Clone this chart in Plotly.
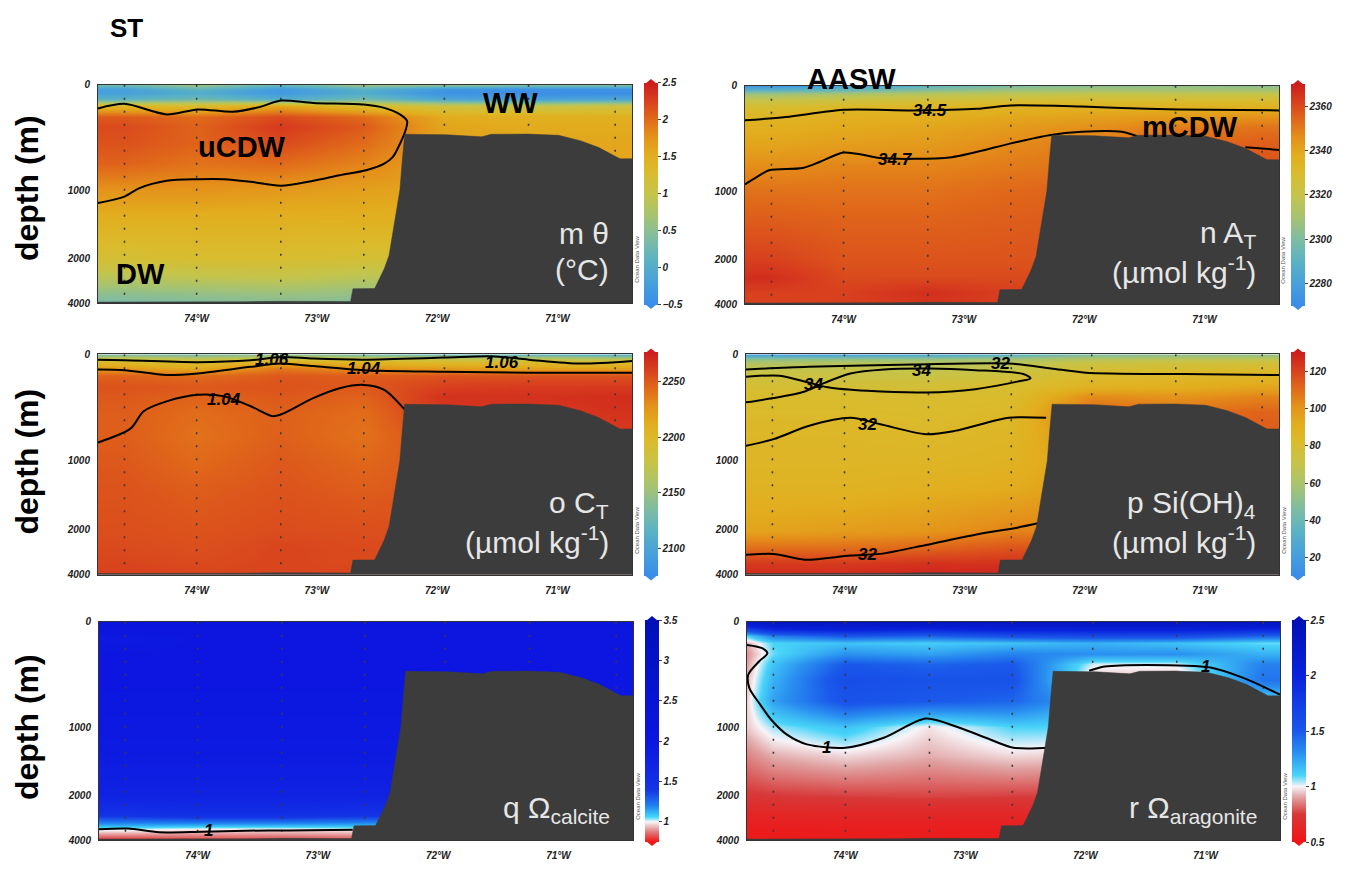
import numpy as np
import plotly.graph_objects as go

W, H = 1345, 869          # reference picture size
OFF = 8                    # default page margin around the figure
FW, FH = W - 2 * OFF, H - 2 * OFF
FONT = "Liberation Sans, Arial, sans-serif"

# ---------------- data ----------------
stations = [-74.60, -74.00, -73.30, -72.61, -71.94, -71.24, -70.52]
arag_lons = [-74.82, -74.60, -74.00, -73.30, -72.61, -71.94, -71.24, -70.52]
depths = [0, 40, 80, 130, 200, 300, 400, 550, 750, 1000, 1400, 2000, 2800, 3500, 4000]

lon_range = [-74.82, -70.38]
lon_ticks = [-74, -73, -72, -71]
lon_ticktext = ["74°W", "73°W", "72°W", "71°W"]
depth_ticks = [0, 1000, 2000, 4000]

# stretched depth axis of the section plots
depth_knots = [0, 1000, 2000, 4000]
axis_knots = [0, 1000, 1654, 2075]

theta = [
    [0.3, 0.6, 0.2, 0.6, 0.5, 0.4, 0.4],
    [-0.2, 0.2, -0.3, 0.1, -0.3, -0.4, -0.4],
    [-0.2, 0.0, -0.3, 0.0, -0.4, -0.45, -0.45],
    [0.1, 0.3, 0.0, 0.3, -0.1, -0.2, -0.1],
    [1.4, 1.3, 1.6, 1.3, 1.1, 1.0, 1.1],
    [2.1, 2.0, 2.2, 2.0, 1.55, 1.5, 1.5],
    [2.2, 2.05, 2.3, 2.1, 1.6, 1.55, 1.55],
    [2.15, 2.05, 2.2, 2.0, 1.65, 1.6, 1.6],
    [2.05, 1.95, 2.0, 1.85, 1.65, 1.6, 1.6],
    [1.75, 1.75, 1.7, 1.65, 1.6, 1.6, 1.6],
    [1.5, 1.5, 1.5, 1.5, 1.5, 1.5, 1.5],
    [1.2, 1.25, 1.25, 1.2, 1.2, 1.2, 1.2],
    [0.9, 0.95, 1.0, 0.9, 0.9, 0.9, 0.9],
    [0.55, 0.6, 0.65, 0.6, 0.6, 0.6, 0.6],
    [0.35, 0.4, 0.45, 0.45, 0.45, 0.45, 0.45],
]

alkalinity = [
    [2276, 2282, 2292, 2300, 2304, 2306, 2304],
    [2290, 2294, 2302, 2308, 2310, 2310, 2310],
    [2308, 2312, 2316, 2318, 2320, 2320, 2320],
    [2320, 2323, 2325, 2327, 2328, 2328, 2328],
    [2328, 2332, 2333, 2335, 2336, 2336, 2336],
    [2334, 2337, 2337, 2340, 2342, 2344, 2346],
    [2337, 2339, 2340, 2343, 2346, 2350, 2352],
    [2340, 2342, 2343, 2347, 2350, 2354, 2356],
    [2346, 2348, 2348, 2350, 2352, 2356, 2358],
    [2352, 2352, 2352, 2354, 2355, 2357, 2358],
    [2356, 2355, 2355, 2356, 2357, 2358, 2358],
    [2362, 2358, 2358, 2358, 2358, 2358, 2358],
    [2366, 2360, 2360, 2360, 2360, 2360, 2360],
    [2362, 2362, 2366, 2362, 2362, 2362, 2362],
    [2362, 2362, 2364, 2362, 2362, 2362, 2362],
]

dic = [
    [2135, 2130, 2145, 2130, 2125, 2120, 2110],
    [2175, 2170, 2180, 2178, 2172, 2168, 2165],
    [2200, 2195, 2212, 2205, 2200, 2196, 2196],
    [2222, 2212, 2238, 2226, 2222, 2218, 2218],
    [2246, 2242, 2250, 2248, 2252, 2252, 2252],
    [2252, 2250, 2252, 2250, 2260, 2262, 2262],
    [2250, 2246, 2250, 2246, 2266, 2266, 2268],
    [2248, 2242, 2247, 2242, 2264, 2264, 2266],
    [2248, 2240, 2247, 2240, 2256, 2258, 2262],
    [2250, 2243, 2250, 2244, 2252, 2252, 2256],
    [2252, 2248, 2252, 2248, 2252, 2252, 2252],
    [2254, 2252, 2255, 2254, 2254, 2254, 2254],
    [2256, 2254, 2258, 2256, 2256, 2256, 2256],
    [2258, 2256, 2258, 2256, 2256, 2256, 2256],
    [2260, 2258, 2258, 2258, 2258, 2258, 2258],
]

silicate = [
    [20, 22, 26, 32, 45, 50, 52],
    [48, 50, 52, 56, 62, 64, 66],
    [62, 64, 64, 66, 72, 74, 76],
    [68, 70, 68, 70, 78, 80, 82],
    [74, 72, 72, 76, 82, 84, 86],
    [79, 78, 78, 80, 88, 90, 94],
    [81, 81, 81, 82, 102, 100, 104],
    [83, 83, 82, 84, 112, 108, 112],
    [85, 85, 84, 86, 104, 104, 114],
    [86, 86, 86, 88, 98, 98, 104],
    [88, 88, 90, 92, 98, 98, 98],
    [95, 97, 99, 104, 104, 104, 104],
    [110, 110, 112, 116, 116, 116, 116],
    [122, 122, 124, 124, 124, 124, 124],
    [126, 126, 128, 128, 128, 128, 128],
]

omega_calcite = [
    [2.20, 2.20, 2.20, 2.20, 2.20, 2.20, 2.20],
    [2.15, 2.15, 2.15, 2.15, 2.15, 2.15, 2.15],
    [2.05, 2.05, 2.05, 2.05, 2.05, 2.05, 2.05],
    [1.95, 2.00, 2.00, 2.00, 2.00, 2.00, 2.00],
    [1.95, 2.00, 2.00, 2.00, 2.00, 2.00, 2.00],
    [2.00, 2.00, 2.00, 2.00, 2.00, 2.00, 2.00],
    [2.00, 2.00, 2.00, 2.00, 2.00, 2.00, 2.00],
    [2.00, 2.00, 2.00, 2.00, 2.00, 2.00, 2.00],
    [1.98, 1.98, 1.98, 1.98, 1.98, 1.98, 1.98],
    [1.95, 1.95, 1.95, 1.95, 1.95, 1.95, 1.95],
    [1.90, 1.90, 1.90, 1.90, 1.90, 1.90, 1.90],
    [1.75, 1.75, 1.75, 1.75, 1.75, 1.75, 1.75],
    [1.45, 1.50, 1.50, 1.45, 1.45, 1.45, 1.45],
    [1.02, 0.99, 0.99, 1.00, 1.00, 1.00, 1.00],
    [0.78, 0.80, 0.80, 0.82, 0.82, 0.82, 0.82],
]

omega_aragonite = [
    [2.2, 2.3, 2.3, 2.3, 2.3, 2.3, 2.3, 2.3],
    [2.0, 2.2, 2.2, 2.2, 2.2, 2.2, 2.2, 2.2],
    [1.6, 1.9, 2.0, 1.9, 2.0, 2.0, 2.0, 1.9],
    [1.1, 1.35, 1.5, 1.45, 1.55, 1.6, 1.6, 1.45],
    [0.92, 1.1, 1.15, 1.12, 1.15, 1.2, 1.15, 1.08],
    [0.88, 1.08, 1.3, 1.25, 1.35, 1.3, 1.3, 1.2],
    [0.9, 1.15, 1.5, 1.45, 1.5, 1.02, 1.02, 1.35],
    [0.93, 1.2, 1.6, 1.55, 1.55, 0.92, 0.92, 1.4],
    [0.96, 1.25, 1.55, 1.5, 1.45, 1.2, 1.2, 1.1],
    [0.95, 1.05, 1.15, 0.98, 1.1, 1.1, 1.1, 1.0],
    [0.86, 0.92, 0.97, 0.92, 0.97, 0.95, 0.95, 0.95],
    [0.74, 0.75, 0.76, 0.77, 0.76, 0.76, 0.76, 0.76],
    [0.62, 0.63, 0.64, 0.64, 0.64, 0.64, 0.64, 0.64],
    [0.56, 0.56, 0.57, 0.57, 0.57, 0.57, 0.57, 0.57],
    [0.54, 0.54, 0.55, 0.55, 0.55, 0.55, 0.55, 0.55],
]

# bathymetry along the section
bathy_lon = [-74.82, -74.40, -74.00, -73.60, -73.30, -73.00, -72.72, -72.70, -72.52, -72.48,
             -72.44, -72.40, -72.35, -72.31, -72.29, -72.27, -71.92, -71.63, -71.55, -71.25,
             -70.99, -70.81, -70.66, -70.48, -70.38]
bathy_depth = [3950, 3955, 3945, 3935, 3915, 3930, 3925, 3350, 3340, 2900,
               2450, 1950, 1430, 1000, 720, 470, 475, 494, 470, 468,
               480, 531, 594, 703, 703]

# contour lines (lon, depth)
theta_ucdw_lon = [-74.82, -74.60, -74.25, -73.99, -73.70, -73.48, -73.30, -73.03, -72.61, -72.44,
                  -72.31, -72.25, -72.26, -72.31, -72.37, -72.44, -72.59, -72.81, -73.03, -73.30,
                  -73.55, -73.77, -73.99, -74.25, -74.48, -74.60, -74.82]
theta_ucdw_depth = [225, 181, 281, 234, 256, 212, 150, 172, 187, 219,
                    281, 344, 422, 562, 688, 750, 812, 859, 912, 959,
                    922, 897, 897, 912, 984, 1095, 1190]

sal345_lon = [-74.82, -74.48, -74.00, -73.42, -72.89, -72.61, -72.02, -71.48, -70.95, -70.38]
sal345_depth = [328, 297, 228, 234, 219, 187, 197, 219, 228, 234]
sal347_lon = [-74.82, -74.72, -74.62, -74.34, -74.19, -74.00, -73.84, -73.70, -73.10, -72.61,
              -72.29, -72.02, -71.69, -71.56]
sal347_depth = [937, 866, 803, 781, 719, 634, 656, 687, 678, 547, 469, 437, 437, 478]
sal347b_lon = [-70.66, -70.38]
sal347b_depth = [584, 609]

ct_upper_lon = [-74.82, -74.60, -73.99, -73.55, -73.30, -73.03, -72.61, -71.94, -71.55, -71.24, -70.81, -70.38]
ct_upper_depth = [50, 56, 74, 56, 25, 40, 50, 31, 19, 50, 87, 62]
ct_lower_lon = [-74.82, -74.60, -74.25, -73.99, -73.55, -73.30, -73.03, -72.61, -71.94, -71.24, -70.38]
ct_lower_depth = [142, 149, 195, 180, 118, 87, 111, 149, 164, 173, 173]
ct_deep_lon = [-74.82, -74.55, -74.44, -74.25, -73.99, -73.77, -73.55, -73.37, -73.30, -73.03,
               -72.81, -72.61, -72.44, -72.27]
ct_deep_depth = [830, 700, 536, 443, 381, 396, 489, 582, 567, 412, 319, 288, 334, 520]

si_top_lon = [-74.82, -74.30, -73.43, -72.63, -72.28, -71.99, -71.17, -70.38]
si_top_depth = [142, 118, 96, 87, 133, 173, 186, 195]
si_loop_lon = [-74.82, -74.54, -74.30, -74.14, -73.81, -73.32, -72.91, -72.56, -72.45, -72.51,
               -72.91, -73.29, -73.67, -73.95, -74.16, -74.33, -74.59, -74.82]
si_loop_depth = [211, 201, 266, 310, 344, 359, 328, 257, 226, 186,
                 149, 133, 142, 180, 266, 350, 412, 452]
si_mid_lon = [-74.82, -74.59, -74.30, -73.95, -73.70, -73.32, -73.08, -72.63, -72.32]
si_mid_depth = [861, 799, 675, 598, 659, 752, 721, 598, 598]
si_deep_lon = [-74.82, -74.59, -74.33, -73.95, -73.70, -73.32, -72.91, -72.56, -72.39]
si_deep_depth = [3114, 3071, 3329, 3143, 3071, 2671, 2214, 1967, 1905]

omc_lon = [-74.82, -74.58, -74.32, -73.96, -73.60, -73.24, -72.71]
omc_depth = [3500, 3471, 3643, 3614, 3571, 3557, 3529]

oma_lon = [-74.82, -74.69, -74.65, -74.72, -74.81, -74.80, -74.71, -74.62, -74.49, -74.32,
           -74.00, -73.68, -73.33, -73.05, -72.83, -72.60, -72.30]
oma_depth = [220, 252, 299, 377, 503, 629, 786, 928, 1106, 1251,
             1300, 1155, 918, 1010, 1155, 1300, 1300]
oma_shelf_lon = [-71.97, -71.84, -71.49, -70.96, -70.68, -70.38]
oma_shelf_depth = [465, 425, 409, 434, 535, 692]

# ---------------- colour maps ----------------
ODV = [[0.00, '#3a8ce8'], [0.10, '#48a0dc'], [0.20, '#5ab2c4'], [0.30, '#7fbca2'],
       [0.40, '#a6c372'], [0.50, '#c6c44a'], [0.60, '#dabb2c'], [0.68, '#e2ad1e'],
       [0.76, '#e4901a'], [0.84, '#e0681a'], [0.92, '#d8401e'], [1.00, '#cc1c1c']]


def value_scale(vals, cols, vmin, vmax):
    return [[(v - vmin) / (vmax - vmin), c] for v, c in zip(vals, cols)]


CALC = value_scale([0.75, 0.88, 1.0, 1.06, 1.2, 1.4, 2.0, 3.5],
                   ['#f01414', '#e08080', '#f8f4f8', '#40d8f8', '#2080f0', '#1434e6', '#0c16e0', '#0010b8'],
                   0.75, 3.5)
ARAG = value_scale([0.5, 0.75, 0.9, 1.0, 1.1, 1.3, 1.5, 2.0, 2.5],
                   ['#f01414', '#d83838', '#e0a0a0', '#f8f4f8', '#48d4f8', '#2a90f0', '#1a58ea', '#0a22dc', '#0010b4'],
                   0.5, 2.5)


def ty(d):
    return list(np.interp(d, depth_knots, axis_knots))


def px(x):
    return (x - OFF) / FW


def py(y):
    return 1 - (y - OFF) / FH


AX_BOTTOM = axis_knots[-1]

UNIT = "(µmol kg<sup>-1</sup>)"
panels = [
    dict(lons=stations, z=theta, cs=ODV, zmin=-0.5, zmax=2.5,
         cbt=[-0.5, 0, 0.5, 1, 1.5, 2, 2.5], box=(98, 632, 80, 302),
         lines=[(theta_ucdw_lon, theta_ucdw_depth)], labels=[],
         title=["m θ", "(°C)"]),
    dict(lons=stations, z=alkalinity, cs=ODV, zmin=2270, zmax=2370,
         cbt=[2280, 2300, 2320, 2340, 2360], box=(745, 1279, 81, 303),
         lines=[(sal345_lon, sal345_depth), (sal347_lon, sal347_depth), (sal347b_lon, sal347b_depth)],
         labels=[("34.5", -73.28, 232), ("34.7", -73.57, 700)],
         title=["n A<sub>T</sub>", UNIT]),
    dict(lons=stations, z=dic, cs=ODV, zmin=2075, zmax=2276,
         cbt=[2100, 2150, 2200, 2250], box=(98, 632, 354, 578),
         lines=[(ct_upper_lon, ct_upper_depth), (ct_lower_lon, ct_lower_depth), (ct_deep_lon, ct_deep_depth)],
         labels=[("1.06", -73.37, 45), ("1.04", -72.61, 130), ("1.06", -71.46, 75), ("1.04", -73.77, 430)],
         title=["o C<sub>T</sub>", UNIT]),
    dict(lons=stations, z=silicate, cs=ODV, zmin=10, zmax=130,
         cbt=[20, 40, 60, 80, 100, 120], box=(746, 1279, 354, 578),
         lines=[(si_top_lon, si_top_depth), (si_loop_lon, si_loop_depth),
                (si_mid_lon, si_mid_depth), (si_deep_lon, si_deep_depth)],
         labels=[("34", -73.36, 150), ("32", -72.70, 90), ("34", -74.26, 285),
                 ("32", -73.81, 665), ("32", -73.81, 3080)],
         title=["p Si(OH)<sub>4</sub>", UNIT]),
    dict(lons=stations, z=omega_calcite, cs=CALC, zmin=0.75, zmax=3.5,
         cbt=[1, 1.5, 2, 2.5, 3, 3.5], box=(99, 633, 626, 848),
         lines=[(omc_lon, omc_depth)], labels=[("1", -73.91, 3580)],
         title=["q Ω<sub>calcite</sub>"]),
    dict(lons=arag_lons, z=omega_aragonite, cs=ARAG, zmin=0.5, zmax=2.5,
         cbt=[0.5, 1, 1.5, 2, 2.5], box=(747, 1280, 626, 848),
         lines=[(oma_lon, oma_depth), (oma_shelf_lon, oma_shelf_depth)],
         labels=[("1", -74.16, 1300), ("1", -71.00, 420)],
         title=["r Ω<sub>aragonite</sub>"]),
]

tickfont = dict(family=FONT, size=10, color='#222', weight='bold', style='italic')

fig = go.Figure()
layout = dict(width=FW, height=FH, margin=dict(l=0, r=0, t=0, b=0),
              paper_bgcolor='white', plot_bgcolor='white', showlegend=False)
annotations = []
shapes = []

for i, p in enumerate(panels, start=1):
    sfx = '' if i == 1 else str(i)
    xa, ya = 'x' + sfx, 'y' + sfx
    x0, x1, y0, y1 = p['box']
    cbx = x1 + 12
    fig.add_trace(go.Heatmap(
        x=p['lons'], y=ty(depths), z=p['z'], zsmooth='best',
        colorscale=p['cs'], zmin=p['zmin'], zmax=p['zmax'], xaxis=xa, yaxis=ya,
        hoverinfo='skip',
        colorbar=dict(x=px(cbx), xanchor='left', xpad=0, ypad=0,
                      y=py((y0 + y1) / 2), yanchor='middle',
                      len=(y1 - y0), lenmode='pixels', thickness=14, outlinewidth=0,
                      tickvals=p['cbt'], ticks='outside', ticklen=3, tickcolor='#444',
                      tickfont=tickfont)))
    # colour bar end triangles
    c_top = p['cs'][-1][1]
    c_bot = p['cs'][0][1]
    shapes.append(dict(type='path', xref='paper', yref='paper', line=dict(width=0), fillcolor=c_top,
                       path=f"M {px(cbx)} {py(y0)} L {px(cbx + 14)} {py(y0)} L {px(cbx + 7)} {py(y0 - 6)} Z"))
    shapes.append(dict(type='path', xref='paper', yref='paper', line=dict(width=0), fillcolor=c_bot,
                       path=f"M {px(cbx)} {py(y1)} L {px(cbx + 14)} {py(y1)} L {px(cbx + 7)} {py(y1 + 6)} Z"))

    # station lines
    sx, sy = [], []
    for s in stations:
        sx += [s, s, None]
        sy += [0, AX_BOTTOM, None]
    fig.add_trace(go.Scatter(x=sx, y=sy, mode='lines', xaxis=xa, yaxis=ya, hoverinfo='skip',
                             line=dict(color='#3a3a3a', width=1.6, dash='2px,11px')))
    # contour lines
    for lx, ld in p['lines']:
        fig.add_trace(go.Scatter(x=lx, y=ty(ld), mode='lines', xaxis=xa, yaxis=ya, hoverinfo='skip',
                                 line=dict(color='black', width=2, shape='spline', smoothing=0.8)))
    # bathymetry
    fig.add_trace(go.Scatter(x=bathy_lon + [lon_range[1], lon_range[0]],
                             y=ty(bathy_depth) + [AX_BOTTOM, AX_BOTTOM],
                             mode='lines', fill='toself', fillcolor='#3c3c3c',
                             line=dict(color='#3c3c3c', width=0.5), xaxis=xa, yaxis=ya, hoverinfo='skip'))
    # contour labels
    for txt, lo, de in p['labels']:
        annotations.append(dict(x=lo, y=ty([de])[0], xref=xa, yref=ya, text=txt, showarrow=False,
                                xanchor='center', yanchor='middle',
                                font=dict(family=FONT, size=17, color='black', weight='bold', style='italic')))
    # panel title text
    tpos = [0.32, 0.155] if len(p['title']) == 2 else [0.14]
    for txt, yy in zip(p['title'], tpos):
        annotations.append(dict(x=0.96, y=yy, xref=xa + ' domain', yref=ya + ' domain', text=txt,
                                showarrow=False, xanchor='right', yanchor='middle',
                                font=dict(family=FONT, size=30, color='#e6e6e6')))
    # ODV credit
    annotations.append(dict(x=1.008, y=0.2, xref=xa + ' domain', yref=ya + ' domain', text='Ocean Data View',
                            showarrow=False, textangle=-90, xanchor='center', yanchor='middle',
                            font=dict(family=FONT, size=6, color='#555')))

    layout['xaxis' + sfx] = dict(domain=[px(x0), px(x1)], range=lon_range, anchor=ya,
                                 tickvals=lon_ticks, ticktext=lon_ticktext, tickfont=tickfont,
                                 showgrid=False, zeroline=False, showline=True, mirror=True,
                                 linecolor='#333', linewidth=1, ticks='', ticklabelstandoff=6)
    layout['yaxis' + sfx] = dict(domain=[py(y1), py(y0)], range=[AX_BOTTOM, 0], anchor=xa,
                                 tickvals=ty(depth_ticks), ticktext=[str(d) for d in depth_ticks],
                                 tickfont=tickfont, showgrid=False, zeroline=False, showline=True,
                                 mirror=True, linecolor='#333', linewidth=1, ticks='', ticklabelstandoff=5)

# water mass names
wm_font = dict(family=FONT, size=29, color='black', weight='bold')
for txt, ax, xx, yy in [("uCDW", '', 0.27, 0.716), ("WW", '', 0.773, 0.919), ("DW", '', 0.079, 0.135),
                        ("AASW", '2', 0.199, 1.03), ("mCDW", '2', 0.833, 0.81)]:
    annotations.append(dict(x=xx, y=yy, xref='x' + ax + ' domain', yref='y' + ax + ' domain', text=txt,
                            showarrow=False, xanchor='center', yanchor='middle', font=wm_font))

# row labels
for yc in [185, 463, 733]:
    annotations.append(dict(x=px(27), y=py(yc), xref='paper', yref='paper', text='depth (m)',
                            textangle=-90, showarrow=False, xanchor='center', yanchor='middle',
                            font=dict(family=FONT, size=32, color='black', weight='bold')))
annotations.append(dict(x=px(126), y=py(22), xref='paper', yref='paper', text='ST', showarrow=False,
                        xanchor='center', yanchor='middle',
                        font=dict(family=FONT, size=26, color='black', weight='bold')))

layout['annotations'] = annotations
layout['shapes'] = shapes
fig.update_layout(**layout)
fig.write_html("out.html")
